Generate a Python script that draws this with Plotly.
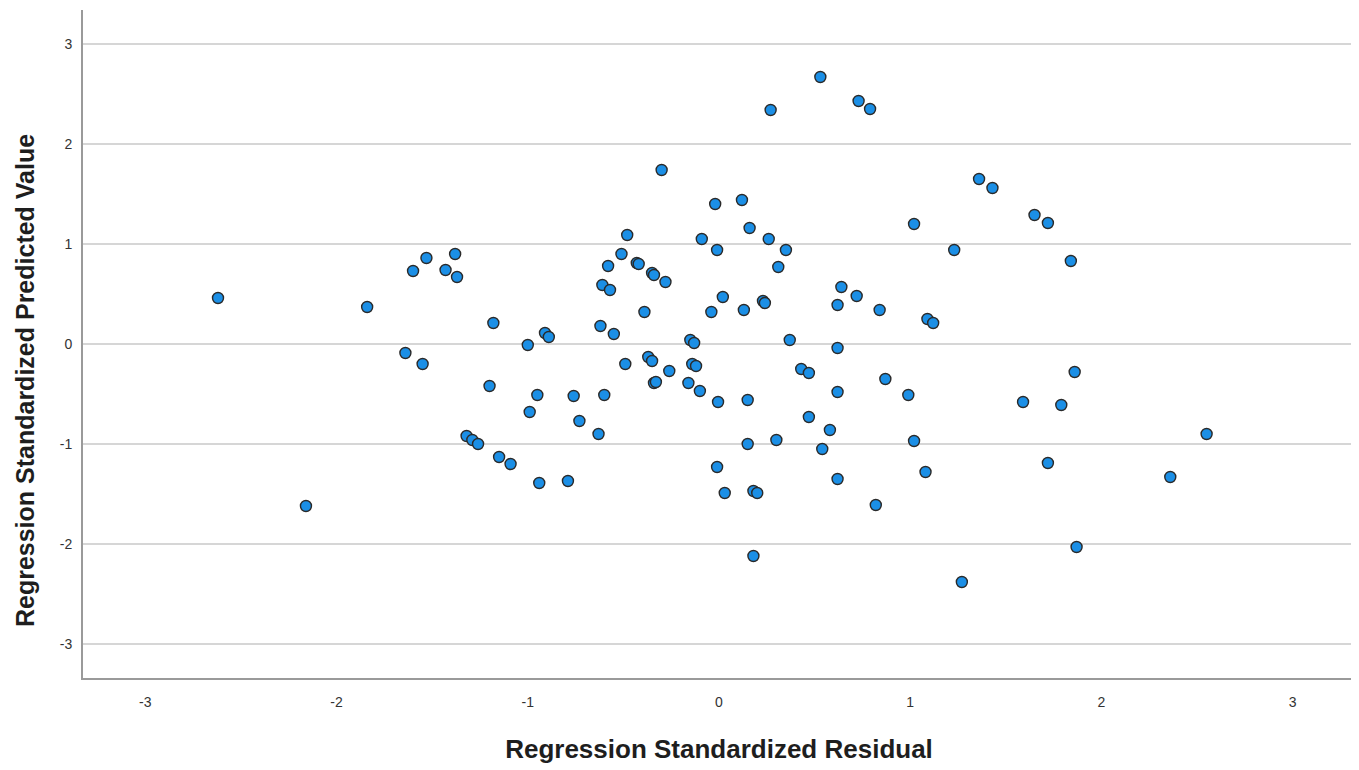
import plotly.graph_objects as go

residual = [
    -2.62, -1.84, -1.60, -1.53, -1.43, -1.38, -1.37, -1.64, -1.55, -1.18,
    -1.20, -1.32, -1.29, -1.26, -1.15, -1.09, -2.16, -1.00, -0.91, -0.89,
    -0.95, -0.99, -0.94, -0.79, -0.76, -0.73, -0.63, -0.60, -0.62, -0.55,
    -0.61, -0.57, -0.58, -0.51, -0.48, -0.43, -0.42, -0.35, -0.34, -0.28,
    -0.39, -0.30, -0.49, -0.37, -0.35, -0.26, -0.34, -0.33, -0.15, -0.13,
    -0.14, -0.12, -0.16, -0.10, -0.005, -0.02, 0.12, 0.16, -0.09, -0.01,
    0.26, 0.35, 0.31, 0.02, -0.04, 0.13, 0.23, 0.24, 0.37, 0.15,
    0.15, 0.30, -0.01, 0.03, 0.18, 0.20, 0.18, 0.27, 0.53, 0.73,
    0.79, 1.36, 1.43, 1.02, 1.65, 1.72, 1.23, 1.84, 0.64, 0.72,
    0.62, 0.84, 1.09, 1.12, 0.62, 0.43, 0.47, 0.87, 0.62, 0.99,
    0.47, 0.58, 0.54, 1.02, 0.62, 1.08, 0.82, 1.27, 1.86, 1.59,
    1.79, 1.72, 1.87, 2.55, 2.36,
]
predicted = [
    0.46, 0.37, 0.73, 0.86, 0.74, 0.90, 0.67, -0.09, -0.20, 0.21,
    -0.42, -0.92, -0.96, -1.00, -1.13, -1.20, -1.62, -0.01, 0.11, 0.07,
    -0.51, -0.68, -1.39, -1.37, -0.52, -0.77, -0.90, -0.51, 0.18, 0.10,
    0.59, 0.54, 0.78, 0.90, 1.09, 0.81, 0.80, 0.71, 0.69, 0.62,
    0.32, 1.74, -0.20, -0.13, -0.17, -0.27, -0.39, -0.38, 0.04, 0.01,
    -0.20, -0.22, -0.39, -0.47, -0.58, 1.40, 1.44, 1.16, 1.05, 0.94,
    1.05, 0.94, 0.77, 0.47, 0.32, 0.34, 0.43, 0.41, 0.04, -0.56,
    -1.00, -0.96, -1.23, -1.49, -1.47, -1.49, -2.12, 2.34, 2.67, 2.43,
    2.35, 1.65, 1.56, 1.20, 1.29, 1.21, 0.94, 0.83, 0.57, 0.48,
    0.39, 0.34, 0.25, 0.21, -0.04, -0.25, -0.29, -0.35, -0.48, -0.51,
    -0.73, -0.86, -1.05, -0.97, -1.35, -1.28, -1.61, -2.38, -0.28, -0.58,
    -0.61, -1.19, -2.03, -0.90, -1.33,
]
tick_vals = [-3, -2, -1, 0, 1, 2, 3]
tick_text = ["-3", "-2", "-1", "0", "1", "2", "3"]

fig = go.Figure(
    go.Scatter(
        x=residual,
        y=predicted,
        mode="markers",
        marker=dict(size=11, color="#1b8fe6", line=dict(color="#2a2a2a", width=1.4)),
        hoverinfo="x+y",
    )
)

fig.update_layout(
    width=1359,
    height=770,
    margin=dict(l=75, r=12, t=2, b=100),
    paper_bgcolor="white",
    plot_bgcolor="white",
    showlegend=False,
    font=dict(family="Liberation Sans, Arial, sans-serif", color="#333333"),
)

fig.update_xaxes(
    range=[-3.326, 3.326],
    tickvals=tick_vals,
    ticktext=tick_text,
    showgrid=False,
    zeroline=False,
    showline=True,
    linecolor="#9a9a9a",
    linewidth=2,
    ticks="",
    tickfont=dict(size=14, color="#333333"),
    ticklabelstandoff=10,
    title=dict(
        text="<b>Regression Standardized Residual</b>",
        font=dict(size=26, color="#1e1e1e"),
        standoff=31,
    ),
)

fig.update_yaxes(
    range=[-3.34, 3.34],
    tickvals=tick_vals,
    ticktext=tick_text,
    showgrid=True,
    gridcolor="#d6d6d6",
    gridwidth=2,
    zeroline=False,
    showline=True,
    linecolor="#9a9a9a",
    linewidth=2,
    ticks="",
    tickfont=dict(size=14, color="#333333"),
    ticklabelstandoff=6,
)

fig.add_annotation(
    text="<b>Regression Standardized Predicted Value</b>",
    xref="paper",
    yref="paper",
    x=-0.0456,
    y=0.446,
    xanchor="center",
    yanchor="middle",
    textangle=-90,
    showarrow=False,
    borderpad=0,
    font=dict(size=25, color="#1e1e1e"),
)

fig.write_html("out.html")
